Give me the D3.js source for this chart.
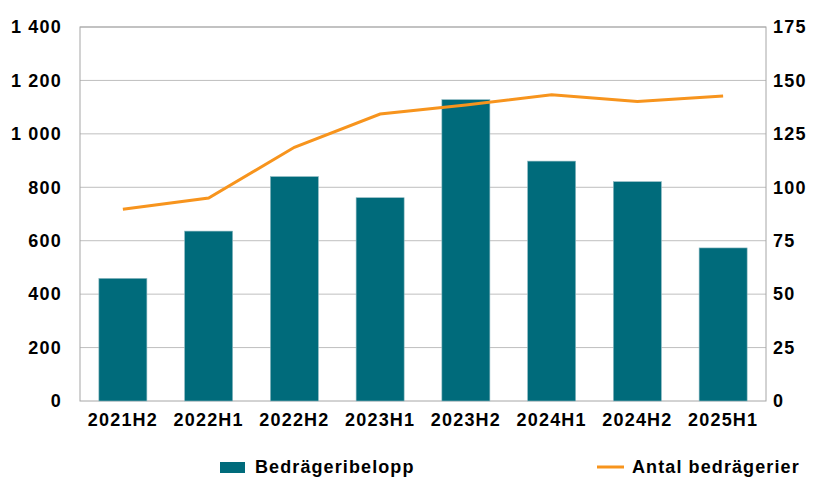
<!DOCTYPE html>
<html>
<head>
<meta charset="utf-8">
<script src="https://cdn.jsdelivr.net/npm/d3@7"></script>
<style>
  body { margin: 0; background: #fff; }
  text { font-family: "Liberation Sans", Arial, sans-serif; font-weight: bold; fill: #000; }
</style>
</head>
<body>
<script>
var width = 819, height = 477;
var left = 80, right = 766, top_y = 27, bottom = 401;

// data
var periods = ['2021H2', '2022H1', '2022H2', '2023H1', '2023H2', '2024H1', '2024H2', '2025H1'];
var belopp = [459, 636, 840, 761, 1128, 898, 821, 573];
var antal = [89.7, 95, 118.7, 134.3, 138.5, 143.3, 140.2, 142.7];
var leftTicks = [0, 200, 400, 600, 800, 1000, 1200, 1400];
var rightTicks = [0, 25, 50, 75, 100, 125, 150, 175];

var barColor = '#006b7b', lineColor = '#f7941d';

var svg = d3.select('body').append('svg').attr('width', width).attr('height', height);

var xScale = d3.scaleBand().domain(periods).range([left, right]).paddingInner(0.44).paddingOuter(0.22);
var yLeft = d3.scaleLinear().domain([0, 1400]).range([bottom, top_y]);
var yRight = d3.scaleLinear().domain([0, 175]).range([bottom, top_y]);

// gridlines
svg.append('g').selectAll('line').data(leftTicks.slice(1)).enter().append('line')
  .attr('x1', left).attr('x2', right)
  .attr('y1', d => yLeft(d)).attr('y2', d => yLeft(d))
  .attr('stroke', '#bfbfbf').attr('stroke-width', 1);

// plot frame
svg.append('rect').attr('x', left).attr('y', top_y)
  .attr('width', right - left).attr('height', bottom - top_y)
  .attr('fill', 'none').attr('stroke', '#a6a6a6').attr('stroke-width', 1);

// bars
svg.append('g').selectAll('rect').data(belopp).enter().append('rect')
  .attr('x', (d, i) => xScale(periods[i]))
  .attr('y', d => yLeft(d))
  .attr('width', xScale.bandwidth())
  .attr('height', d => bottom - yLeft(d))
  .attr('fill', barColor)
  .attr('stroke', '#8fbac2').attr('stroke-width', 0.6);

// line
var line = d3.line()
  .x((d, i) => xScale(periods[i]) + xScale.bandwidth() / 2)
  .y(d => yRight(d));
svg.append('path').datum(antal)
  .attr('d', line)
  .attr('fill', 'none').attr('stroke', lineColor).attr('stroke-width', 3);

// axes
var axL = svg.append('g').attr('transform', 'translate(' + left + ',0)')
  .call(d3.axisLeft(yLeft).tickValues(leftTicks).tickSize(0).tickPadding(18)
    .tickFormat(d => d3.format(',')(d).replace(',', ' ')));
var axR = svg.append('g').attr('transform', 'translate(' + right + ',0)')
  .call(d3.axisRight(yRight).tickValues(rightTicks).tickSize(0).tickPadding(7));
var axB = svg.append('g').attr('transform', 'translate(0,' + bottom + ')')
  .call(d3.axisBottom(xScale).tickSize(0).tickPadding(12));
[axL, axR, axB].forEach(function(a) {
  a.select('.domain').remove();
  a.selectAll('text').style('font-size', '18px').style('letter-spacing', '1.2px')
    .style('font-family', '"Liberation Sans", Arial, sans-serif').style('font-weight', 'bold');
});

// legend
var lg = svg.append('g');
lg.append('rect').attr('x', 220).attr('y', 462).attr('width', 25).attr('height', 11).attr('fill', barColor);
lg.append('text').attr('x', 255).attr('y', 473).style('font-size', '18px').style('letter-spacing', '1.1px')
  .text('Bedrägeribelopp');
lg.append('line').attr('x1', 597).attr('x2', 624).attr('y1', 467).attr('y2', 467)
  .attr('stroke', lineColor).attr('stroke-width', 3);
lg.append('text').attr('x', 632).attr('y', 473).style('font-size', '18px').style('letter-spacing', '1.1px')
  .text('Antal bedrägerier');
</script>
</body>
</html>
